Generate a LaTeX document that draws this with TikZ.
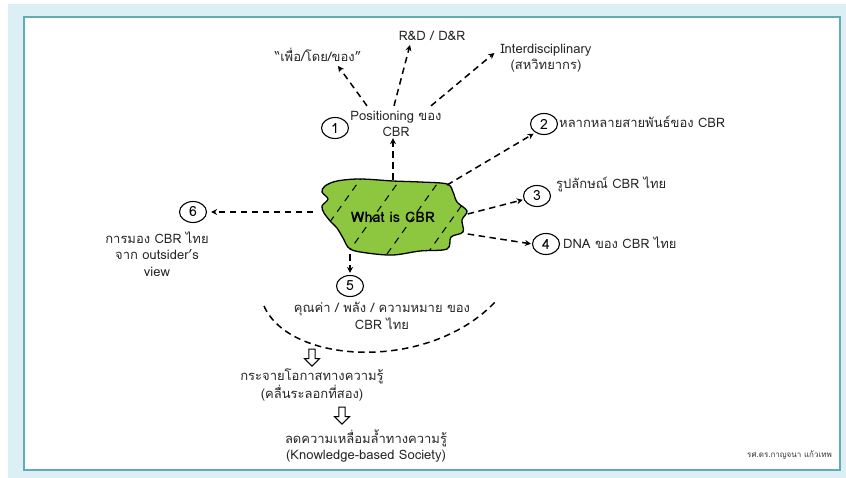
\documentclass[tikz,border=0pt]{standalone}
\usepackage{fontspec}
\setmainfont[Script=Thai]{Loma}
\usetikzlibrary{arrows.meta, calc, shapes.geometric, shapes.arrows}
\definecolor{bgblue}{RGB}{219,239,244}
\definecolor{frameline}{RGB}{98,172,182}
\definecolor{blobgreen}{RGB}{141,198,63}

\begin{document}
\begin{tikzpicture}[x=1pt, y=-1pt,
    txt/.style={align=center, inner sep=1pt, text=black!85, font=\fontsize{13}{16.5}\selectfont},
    num/.style={ellipse, draw, line width=1.1pt, minimum width=27pt, minimum height=21pt, inner sep=0pt, font=\fontsize{14}{14}\selectfont},
    dasharrow/.style={line width=1.5pt, dash pattern=on 6.5pt off 4.5pt, -{Stealth[length=6pt, width=6pt]}},
    hatch/.style={line width=1pt, dash pattern=on 7pt off 6pt},
    hollow/.style={single arrow, draw, line width=1pt, fill=white, shape border rotate=270, minimum height=17pt, minimum width=15pt, single arrow head extend=4pt, inner sep=2.5pt}]
      \useasboundingbox (0,0) rectangle (846,478);
      \fill[bgblue] (8,4) rectangle (846,478);
      \draw[frameline, line width=2.5pt, fill=white] (24,17) rectangle (840,470);

      % the blob
      \def\blobpath{plot[smooth cycle, tension=0.55] coordinates {(325,186) (337,181) (360,179) (393,181) (420,182) (447,184) (453,192) (457,202) (467,211) (462,220) (463,232) (451,237) (447,249) (420,251) (393,255) (367,253) (350,249) (343,238) (337,228) (331,222) (324,213) (322,206) (328,199) (322,192)}}
      \draw[fill=blobgreen, line width=1.3pt] \blobpath;
      \begin{scope}
        \clip \blobpath;
        \foreach \x in {307,347,387,427}
          \draw[hatch] (\x,254) -- ++(60,-84);
      \end{scope}
      \node[minimum width=145pt, minimum height=74pt, font=\fontsize{14.5}{14.5}\selectfont\bfseries] (what) at (393,217) {What is CBR};

      % circles and their texts
      \node[txt] (pos) at (396,124) {Positioning ของ\\CBR};
      \node[num] (c1) at (335,128) {1};
      \node[txt] (ppl) at (318,55) {“เพื่อ/โดย/ของ”};
      \node[txt] (rd) at (432,36) {R\&D / D\&R};
      \node[txt] (inter) at (546,58) {Interdisciplinary\\(สหวิทยากร)};

      \node[num] (c2) at (544,124) {2};
      \node[txt, anchor=west] (t2) at (558,122) {หลากหลายสายพันธ์ของ CBR};
      \node[num] (c3) at (537,196) {3};
      \node[txt, anchor=west] (t3) at (555,184) {รูปลักษณ์ CBR ไทย};
      \node[num] (c4) at (546,244) {4};
      \node[txt, anchor=west] (t4) at (562,243) {DNA ของ CBR ไทย};
      \node[num] (c6) at (193,212) {6};
      \node[txt] (t6) at (157,254) {การมอง CBR ไทย\\จาก outsider’s\\view};
      \node[num] (c5) at (350,286) {5};
      \node[txt] (val) at (382,316) {คุณค่า / พลัง / ความหมาย ของ\\CBR ไทย};

      \node[hollow] (h1) at (312,356) {};
      \node[txt] (spread) at (312,385) {กระจายโอกาสทางความรู้\\(คลื่นระลอกที่สอง)};
      \node[hollow] (h2) at (342,414) {};
      \node[txt] (gap) at (366,446) {ลดความเหลื่อมล้ำทางความรู้\\(Knowledge-based Society)};

      \node[anchor=east, inner sep=0pt, text=black!80, font=\fontsize{8}{8}\selectfont] (credit) at (832,455) {รศ.ดร.กาญจนา แก้วเทพ};

      % arrows
      \draw[dasharrow] ($(pos.north)+(-29,-4)$) -- ($(ppl.south)+(20,3)$);
      \draw[dasharrow] ($(pos.north)+(-2,-4)$) -- ($(rd.south)+(-22,3)$);
      \draw[dasharrow] ($(pos.north)+(35,-4)$) -- ($(inter.west)+(-5,-5)$);
      \draw[dasharrow] (what.north) -- (what.north |- pos.south);
      \draw[dasharrow, shorten >=2pt] ($(what.center)+(54,-32)$) -- (c2.225);
      \draw[dasharrow, shorten >=1pt] ($(what.east)+(2,-3)$) -- (c3.195);
      \draw[dasharrow, shorten >=1pt] ($(what.east)+(2,17)$) -- (c4.west);
      \draw[dasharrow, shorten >=4pt] ($(what.west)+(-7,-5)$) -- (c6.east);
      \draw[dasharrow, shorten >=2pt] (c5.north |- what.south) -- (c5.north);

      \draw[line width=1.5pt, dash pattern=on 6.5pt off 4.5pt] (264,306) .. controls (290,365) and (430,372) .. (496,301);
    \end{tikzpicture}
\end{document}
